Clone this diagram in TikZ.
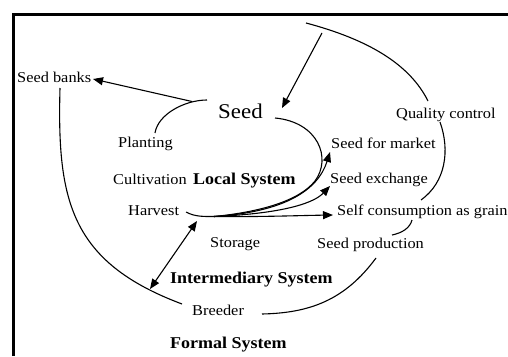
\documentclass[tikz,border=0pt]{standalone}
\usepackage{fontspec}
\setmainfont{Liberation Serif}[FakeStretch=1.09]
\usetikzlibrary{arrows.meta}
\begin{document}
\begin{tikzpicture}[x=1pt,y=-1pt,
  lbl/.style={anchor=base west,inner sep=0pt,font=\fontsize{15}{18}\selectfont,text=black},
  bold/.style={anchor=base west,inner sep=0pt,font=\fontsize{16.5}{20}\selectfont\bfseries,text=black},
  big/.style={anchor=base west,inner sep=0pt,font=\fontsize{21}{24}\selectfont,text=black},
  conn/.style={line width=1.1pt,black},
  arr/.style={conn,-{Triangle[length=10pt,width=8pt]}},
  darr/.style={conn,{Triangle[length=10pt,width=8pt]}-{Triangle[length=10pt,width=8pt]}}]
\useasboundingbox (0,0) rectangle (508,356);
\fill[white] (0,0) rectangle (508,356);
% frame
\draw[line width=3pt] (13,356) -- (13,14.5) -- (508,14.5);
% labels
\node[lbl] (banks) at (17,82) {Seed banks};
\node[big] (seed) at (218,118) {Seed};
\node[lbl] (plant) at (118,147) {Planting};
\node[lbl] (cult) at (113,184) {Cultivation};
\node[bold] (local) at (193,184) {Local System};
\node[lbl] (harv) at (128,215) {Harvest};
\node[lbl] (stor) at (210,247) {Storage};
\node[bold] (inter) at (170,283) {Intermediary System};
\node[lbl] (breed) at (192,315) {Breeder};
\node[bold] (formal) at (170,348) {Formal System};
\node[lbl] (qc) at (396,118) {Quality control};
\node[lbl] (market) at (331,148) {Seed for market};
\node[lbl] (exch) at (330,183) {Seed exchange};
\node[lbl] (self) at (337,215) {Self consumption as grain};
\node[lbl] (prod) at (317,248) {Seed production};
% coordinates
\coordinate (sL) at (207,100);
\coordinate (sB) at (192,101.5);
\coordinate (plT) at (155,133);
\coordinate (bkR) at (93,79);
\coordinate (topA) at (306,23);
\coordinate (topS) at (322,33);
\coordinate (seedT) at (282,108);
\coordinate (qcT) at (428,101);
\coordinate (sR) at (275,118);
\coordinate (hvR) at (186,212);
\coordinate (hvB) at (214,216.5);
\coordinate (mkL) at (330,152);
\coordinate (exL) at (330,186);
\coordinate (slL) at (333,215);
\coordinate (bkB) at (60,88);
\coordinate (brL) at (182,304);
\coordinate (dA) at (197,221);
\coordinate (dB) at (150,289);
\coordinate (qcB) at (440,122);
\coordinate (slT) at (421,200);
\coordinate (slB) at (412,220);
\coordinate (prT) at (392,235);
\coordinate (prB) at (376,258);
\coordinate (brR) at (262,314);
% connectors
\draw[conn] (sL) .. controls (185,100) and (158,114) .. (plT);
\draw[arr] (sB) -- (bkR);
\draw[conn] (topA) .. controls (370,40) and (410,65) .. (qcT);
\draw[arr] (topS) -- (seedT);
\draw[conn] (sR) .. controls (318,122) and (332,158) .. (315,181) .. controls (299,201) and (260,212) .. (hvB);
\draw[conn] (hvR) .. controls (195,217) and (205,216.5) .. (hvB);
\draw[arr] (hvB) .. controls (285,212) and (318,190) .. (mkL);
\draw[arr] (hvB) .. controls (275,214) and (312,205) .. (exL);
\draw[arr] (hvB) .. controls (260,217) and (300,215.5) .. (slL);
\draw[darr] (dA) -- (dB);
\draw[conn] (bkB) .. controls (57,200) and (70,262) .. (brL);
\draw[conn] (qcB) .. controls (450,150) and (446,182) .. (slT);
\draw[conn] (slB) .. controls (410,228) and (402,233) .. (prT);
\draw[conn] (prB) .. controls (345,300) and (310,313) .. (brR);
\end{tikzpicture}
\end{document}
